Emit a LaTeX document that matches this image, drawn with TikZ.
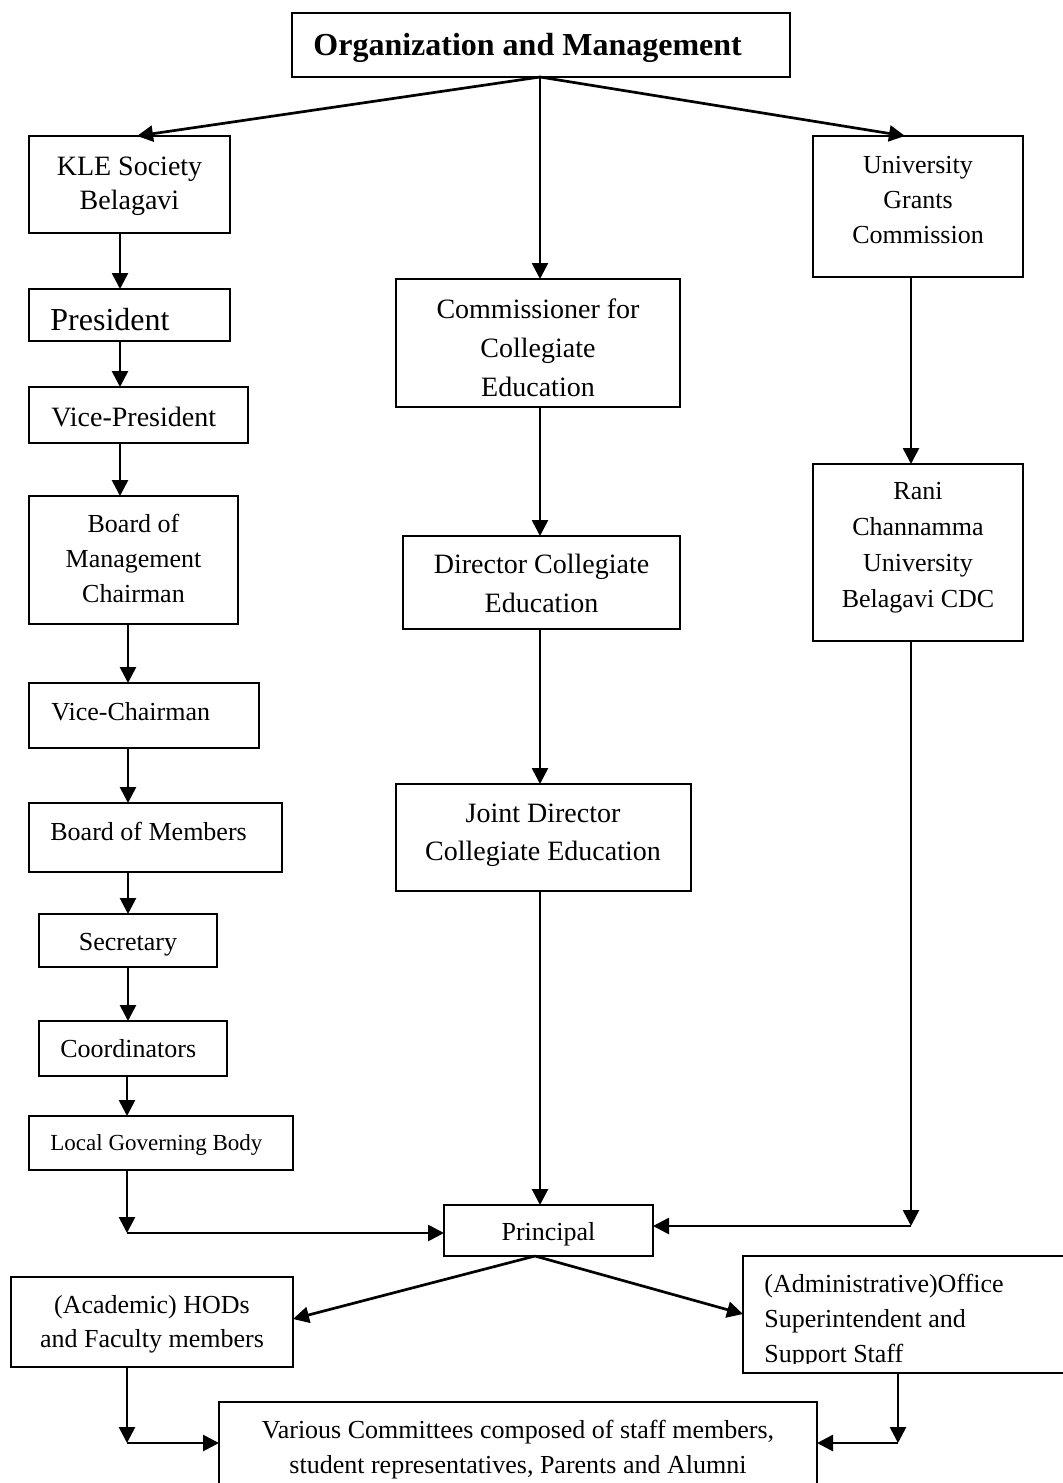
\documentclass[tikz,border=0pt]{standalone}
\usepackage{fontspec}
\setmainfont{Liberation Serif}
\usetikzlibrary{arrows.meta,calc}
\newcommand\ctext[1]{\vtop{\halign{\hfil##\hfil\cr#1\crcr}}}
\newcommand\ltext[1]{\vtop{\halign{##\hfil\cr#1\crcr}}}
\newcommand\OBox[5]{\node[box, minimum width={(#4-#2)*0.5pt}, minimum height={(#5-#3)*0.5pt}] (#1) at ({(#2+#4)/2},{(#3+#5)/2}) {};}
\begin{document}
\begin{tikzpicture}[x=0.5pt,y=-0.5pt,
  box/.style={draw, line width=0.95pt, inner sep=0pt, outer sep=0pt},
  arr/.style={line width=1.35pt, -{Triangle[length=8pt,width=8pt]}},
  txt/.style={inner sep=0pt, anchor=base},
  ltxt/.style={inner sep=0pt, anchor=base west},
  fA/.style={font=\fontsize{13}{17.5}\selectfont},
  fB/.style={font=\fontsize{14}{19.5}\selectfont},
  fC/.style={font=\fontsize{16}{19}\selectfont},
  fS/.style={font=\fontsize{11.5}{14}\selectfont}]
\useasboundingbox (0,0) rectangle (1062,1483);
% boxes
\OBox{title}{292}{13}{790}{77}
\OBox{kle}{29}{136}{230}{233}
\OBox{ugc}{813}{136}{1023}{277}
\OBox{pres}{29}{289}{230}{341}
\OBox{comm}{396}{279}{680}{407}
\OBox{vp}{29}{387}{248}{443}
\OBox{bom}{29}{496}{238}{624}
\OBox{rani}{813}{464}{1023}{641}
\OBox{dir}{403}{536}{680}{629}
\OBox{vc}{29}{683}{259}{748}
\OBox{bmem}{29}{803}{282}{872}
\OBox{jd}{396}{784}{691}{891}
\OBox{sec}{39}{914}{217}{967}
\OBox{coord}{39}{1021}{227}{1076}
\OBox{lgb}{29}{1116}{293}{1170}
\OBox{princ}{444}{1205}{653}{1256}
\OBox{hod}{11}{1277}{293}{1367}
\OBox{adm}{743}{1256}{1075}{1373}
\OBox{comt}{219}{1402}{817}{1500}
% texts
\node[ltxt, font=\fontsize{16}{19}\selectfont\bfseries] (t-title) at (313,55) {Organization and Management};
\node[txt, font=\fontsize{14}{17}\selectfont] (t-kle) at (129.5,175) {\ctext{KLE Society\cr Belagavi}};
\node[txt, fA] (t-ugc) at (918,173) {\ctext{University\cr Grants\cr Commission}};
\node[ltxt, fC] (t-pres) at (50,330) {President};
\node[txt, fB] (t-comm) at (538,318) {\ctext{Commissioner for\cr Collegiate\cr Education}};
\node[ltxt, fB] (t-vp) at (51,426) {Vice-President};
\node[txt, fA] (t-bom) at (133.5,532) {\ctext{Board of\cr Management\cr Chairman}};
\node[txt, font=\fontsize{13}{18}\selectfont] (t-rani) at (918,499) {\ctext{Rani\cr Channamma\cr University\cr Belagavi CDC}};
\node[txt, fB] (t-dir) at (541.5,573) {\ctext{Director Collegiate\cr Education}};
\node[ltxt, fA] (t-vc) at (51,720) {Vice-Chairman};
\node[ltxt, fA] (t-bmem) at (50,840) {Board of Members};
\node[txt, font=\fontsize{14}{19}\selectfont] (t-jd) at (543,822) {\ctext{Joint Director\cr Collegiate Education}};
\node[txt, fA] (t-sec) at (128,950) {Secretary};
\node[ltxt, fA] (t-coord) at (60,1057) {Coordinators};
\node[ltxt, fS] (t-lgb) at (50,1150) {Local Governing Body};
\node[txt, fA] (t-princ) at (548.5,1240) {Principal};
\node[txt, font=\fontsize{13}{17}\selectfont] (t-hod) at (152,1313) {\ctext{(Academic) HODs\cr and Faculty members}};
\begin{scope}
\clip (743,1256) rectangle (1062,1363);
\node[ltxt, fA] (t-adm) at (764,1292) {\ltext{(Administrative)Office\cr Superintendent and\cr Support Staff}};
\end{scope}
\node[txt, fA] (t-comt) at (518,1438) {\ctext{Various Committees composed of staff members,\cr student representatives, Parents and Alumni}};
% column coordinates
\coordinate (xA) at (120,0);
\coordinate (xB) at (128,0);
\coordinate (xC) at (540,0);
\coordinate (xD) at (911,0);
\coordinate (top) at (540,77);
\coordinate (kleTip) at (137,136);
\coordinate (ugcTip) at (905,136);
\coordinate (lgbC) at (127,1233);
\coordinate (raniC) at (911,1226);
\coordinate (pOut) at (535,1256);
\coordinate (hodTip) at (293,1319);
\coordinate (admTip) at (743,1314);
\coordinate (hodC) at (127,1443);
\coordinate (admC) at (898,1443);
% connectors
\draw[arr] (top) -- (kleTip);
\draw[arr] (top) -- (top |- comm.north);
\draw[arr] (top) -- (ugcTip);
\draw[arr] (kle.south -| xA) -- (pres.north -| xA);
\draw[arr] (pres.south -| xA) -- (vp.north -| xA);
\draw[arr] (vp.south -| xA) -- (bom.north -| xA);
\draw[arr] (bom.south -| xB) -- (vc.north -| xB);
\draw[arr] (vc.south -| xB) -- (bmem.north -| xB);
\draw[arr] (bmem.south -| xB) -- (sec.north -| xB);
\draw[arr] (sec.south -| xB) -- (coord.north -| xB);
\draw[arr] (coord.south -| lgbC) -- (lgb.north -| lgbC);
\draw[arr] (lgb.south -| lgbC) -- (lgbC);
\draw[arr] (lgbC) -- (princ.west |- lgbC);
\draw[arr] (comm.south -| xC) -- (dir.north -| xC);
\draw[arr] (dir.south -| xC) -- (jd.north -| xC);
\draw[arr] (jd.south -| xC) -- (princ.north -| xC);
\draw[arr] (ugc.south -| xD) -- (rani.north -| xD);
\draw[arr] (rani.south -| xD) -- (raniC);
\draw[arr] (raniC) -- (princ.east |- raniC);
\draw[arr] (pOut) -- (hodTip);
\draw[arr] (pOut) -- (admTip);
\draw[arr] (hod.south -| hodC) -- (hodC);
\draw[arr] (hodC) -- (comt.west |- hodC);
\draw[arr] (adm.south -| admC) -- (admC);
\draw[arr] (admC) -- (comt.east |- admC);
\end{tikzpicture}
\end{document}
